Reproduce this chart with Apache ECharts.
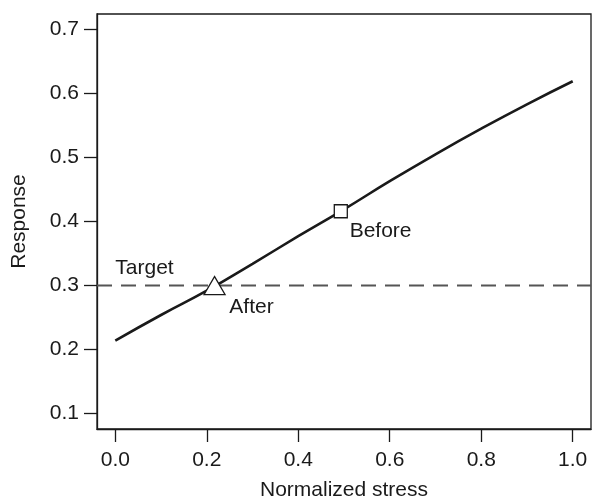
<!DOCTYPE html>
<html>
<head>
<meta charset="utf-8">
<script src="https://cdn.jsdelivr.net/npm/echarts@6/dist/echarts.min.js"></script>
<style>
  html, body { margin: 0; padding: 0; background: #fff; }
  #chart { width: 592px; height: 500px; }
</style>
</head>
<body>
<div id="chart"></div>
<script>
  // values
  var stressValues = [0.0, 0.1, 0.2, 0.3, 0.4, 0.5, 0.6, 0.7, 0.8, 0.9, 1.0]
  var responseValues = [0.214, 0.254, 0.292, 0.334, 0.377, 0.419, 0.463, 0.505, 0.545, 0.583, 0.619]
  var targetValue = 0.3
  var beforePoint = [0.493, 0.416]
  var afterPoint = [0.217, 0.300]
  var xTicks = [0.0, 0.2, 0.4, 0.6, 0.8, 1.0]
  var yTicks = [0.1, 0.2, 0.3, 0.4, 0.5, 0.6, 0.7]
  var xRange = [-0.04, 1.04]
  var yRange = [0.076, 0.724]

  var font = 'Liberation Sans, Arial, Helvetica, sans-serif'
  var fontSize = 21
  var ink = '#1a1a1a'

  var curve = stressValues.map(function (x, i) { return [x, responseValues[i]] })

  var labelStyle = {
    fontFamily: font,
    fontSize: fontSize,
    color: ink,
    align: 'left',
    verticalAlign: 'middle'
  }

  var myChart = echarts.init(document.getElementById('chart'))
  myChart.setOption({
    animation: false,
    grid: {
      left: 97,
      top: 14,
      right: 1,
      bottom: 71,
      outerBoundsMode: 'none',
      show: true,
      borderColor: ink,
      borderWidth: 1.3,
      backgroundColor: '#fff'
    },
    xAxis: {
      type: 'value',
      min: xRange[0],
      max: xRange[1],
      name: 'Normalized stress',
      nameLocation: 'middle',
      nameGap: 51,
      nameTextStyle: { fontFamily: font, fontSize: fontSize, color: ink },
      axisLine: { show: true, onZero: false, lineStyle: { color: ink, width: 1.3 } },
      splitLine: { show: false },
      axisTick: {
        show: true,
        inside: false,
        customValues: xTicks,
        length: 13,
        lineStyle: { color: ink, width: 1.3 }
      },
      axisLabel: {
        customValues: xTicks,
        margin: 21,
        fontFamily: font,
        fontSize: fontSize,
        color: ink,
        formatter: function (v) { return v.toFixed(1) }
      }
    },
    yAxis: {
      type: 'value',
      min: yRange[0],
      max: yRange[1],
      name: 'Response',
      nameLocation: 'middle',
      nameGap: 67,
      nameTextStyle: { fontFamily: font, fontSize: fontSize, color: ink },
      axisLine: { show: true, onZero: false, lineStyle: { color: ink, width: 1.3 } },
      splitLine: { show: false },
      axisTick: {
        show: true,
        inside: false,
        customValues: yTicks,
        length: 13,
        lineStyle: { color: ink, width: 1.3 }
      },
      axisLabel: {
        customValues: yTicks,
        margin: 18,
        fontFamily: font,
        fontSize: fontSize,
        color: ink,
        formatter: function (v) { return v.toFixed(1) }
      }
    },
    series: [
      {
        name: 'Target',
        type: 'line',
        data: [[xRange[0], targetValue], [xRange[1], targetValue]],
        showSymbol: false,
        silent: true,
        lineStyle: { color: '#555', width: 2, type: [15, 9] },
        z: 1
      },
      {
        name: 'Response',
        type: 'line',
        data: curve,
        showSymbol: false,
        smooth: true,
        lineStyle: { color: ink, width: 2.6 },
        z: 2
      },
      {
        name: 'labels',
        type: 'scatter',
        symbolSize: 0,
        z: 3,
        itemStyle: { opacity: 1 },
        data: [
          {
            value: [0.0, targetValue],
            label: { show: true, formatter: 'Target', position: [0, -17] }
          }
        ],
        label: labelStyle
      },
      {
        name: 'Before',
        type: 'scatter',
        symbol: 'rect',
        symbolSize: 13,
        z: 4,
        itemStyle: { color: '#fff', borderColor: ink, borderWidth: 1.3, opacity: 1 },
        data: [beforePoint],
        label: Object.assign({ show: true, formatter: 'Before', position: [16, 27] }, labelStyle)
      },
      {
        name: 'After',
        type: 'scatter',
        symbol: 'triangle',
        symbolSize: [21, 18],
        z: 4,
        itemStyle: { color: '#fff', borderColor: ink, borderWidth: 1.3, opacity: 1 },
        data: [afterPoint],
        label: Object.assign({ show: true, formatter: 'After', position: [26, 31] }, labelStyle)
      }
    ]
  })
</script>
</body>
</html>
